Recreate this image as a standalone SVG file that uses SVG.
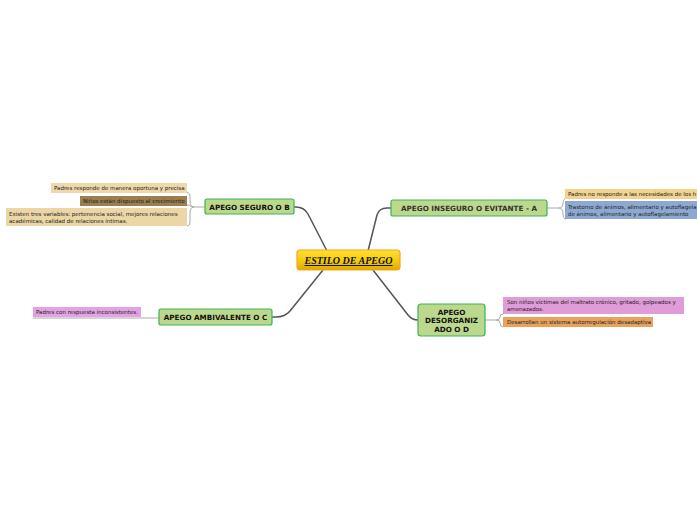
<svg xmlns="http://www.w3.org/2000/svg" width="697" height="520" viewBox="0 0 697 520">
<defs>
<linearGradient id="gold" x1="0" y1="0" x2="0" y2="1">
<stop offset="0" stop-color="#ffe033"/>
<stop offset="0.6" stop-color="#f3c80a"/>
<stop offset="1" stop-color="#d9a900"/>
</linearGradient>
<style>
.main{fill:#bcd88c;stroke:#3fb25a;stroke-width:1.2}
.mt{font-family:"DejaVu Sans",Verdana,sans-serif;font-size:7.2px;font-weight:bold;fill:#111}
.lt{font-family:"DejaVu Sans",Verdana,sans-serif;font-size:5.5px;fill:#222}
.conn{fill:none;stroke:#555;stroke-width:1.5}
.br{fill:none;stroke:#aaa;stroke-width:1}
</style>
</defs>
<rect width="697" height="520" fill="#ffffff"/>
<g id="connectors">
<path class="conn" d="M327,251 L308,214 Q304,207 296,207 L294,207"/>
<path class="conn" d="M368,251 L377,215 Q379,208 387,208 L391,208"/>
<path class="conn" d="M323,270 L290,311 Q285,317 276,317 L272,317"/>
<path class="conn" d="M373,270 L408,315 Q412,320 418,320"/>
<path class="br" d="M205,207 L194,207 M194,207 Q190,207 190,200 L190,196 Q190,193 187,192 M194,207 Q190,207 189,205 L187,205 M194,207 Q190,207 190,214 L190,222 Q190,226 187,226"/>
<path class="br" d="M547,208 L559,208 M559,208 Q563,208 563,203 Q563,199 566,198 M559,208 Q563,208 563,214 Q563,219 566,219"/>
<path class="br" d="M485,320 L496,320 M496,320 Q500,320 500,317 Q500,314 503,314 M496,320 Q500,320 500,323 Q500,327 503,327"/>
<path class="br" d="M159,318 L33,318"/>
</g>
<g id="central">
<rect x="297" y="250" width="103" height="20" rx="3" fill="url(#gold)" stroke="#f5a623" stroke-width="1.2"/>
<text x="348.5" y="264" text-anchor="middle" font-family="'Liberation Serif',serif" font-size="10" font-weight="bold" font-style="italic" text-decoration="underline" fill="#111">ESTILO DE APEGO</text>
</g>
<g id="seguro">
<rect class="main" x="205" y="199" width="89" height="15" rx="2"/>
<text class="mt" x="249.5" y="209.6" text-anchor="middle">APEGO SEGURO O B</text>
</g>
<g id="inseguro">
<rect class="main" x="391" y="200" width="156" height="16" rx="2"/>
<text class="mt" x="469" y="211.1" text-anchor="middle" style="fill:#333">APEGO INSEGURO O EVITANTE - A</text>
</g>
<g id="ambivalente">
<rect class="main" x="159" y="309" width="113" height="16" rx="2"/>
<text class="mt" x="215.5" y="320.1" text-anchor="middle">APEGO AMBIVALENTE O C</text>
</g>
<g id="desorganizado">
<rect class="main" x="418" y="304" width="67" height="32" rx="3"/>
<text class="mt" x="451.5" y="314.5" text-anchor="middle">APEGO</text>
<text class="mt" x="451.5" y="323" text-anchor="middle">DESORGANIZ</text>
<text class="mt" x="451.5" y="331.5" text-anchor="middle">ADO O D</text>
</g>
<g id="leaf-s1">
<rect x="51" y="183" width="136" height="10" fill="#efd9aa"/>
<text class="lt" x="54" y="190">Padres responde de manera oportuna y precisa</text>
</g>
<g id="leaf-s2">
<rect x="80" y="196" width="107" height="10" fill="#9c7f4f"/>
<text class="lt" x="83" y="203">Niños están dispuesto al crecimiento</text>
</g>
<g id="leaf-s3">
<rect x="6" y="208" width="181" height="18" fill="#ecd6a6"/>
<text class="lt" x="9" y="215.5">Existen tres variables: pertenencia social, mejores relaciones</text>
<text class="lt" x="9" y="222.5">académicas, calidad de relaciones íntimas.</text>
</g>
<g id="leaf-i1">
<rect x="565" y="189" width="140" height="10" fill="#f1d48e"/>
<text class="lt" x="568" y="196">Padres no responde a las necesidades de los h</text>
</g>
<g id="leaf-i2">
<rect x="565" y="201" width="140" height="18" fill="#8ea9d1"/>
<text class="lt" x="568" y="208.5">Trastorno de ánimos, alimentario y autoflagela</text>
<text class="lt" x="568" y="215.5">de ánimos, alimentario y autoflagelamiento</text>
</g>
<g id="leaf-d1">
<rect x="503" y="297" width="181" height="17" fill="#e09cd9"/>
<text class="lt" x="507" y="304">Son niños víctimas del maltrato crónico, gritado, golpeados y</text>
<text class="lt" x="507" y="311">amenazados.</text>
</g>
<g id="leaf-d2">
<rect x="503" y="317" width="150" height="10" fill="#e8a25c"/>
<text class="lt" x="507" y="324">Desarrollan un sistema autorregulación desadaptiva</text>
</g>
<g id="leaf-a1">
<rect x="33" y="307" width="108" height="10" fill="#e3a2e3"/>
<text class="lt" x="36" y="314">Padres con respuesta inconsistentes.</text>
</g>
</svg>
